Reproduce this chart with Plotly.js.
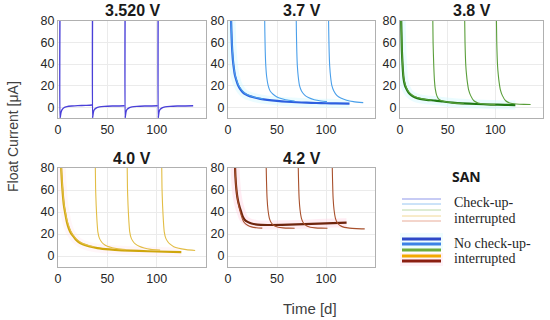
<!DOCTYPE html>
<html>
<head>
<meta charset="utf-8">
<script src="https://cdn.plot.ly/plotly-3.0.1.min.js"></script>
<style>html,body{margin:0;padding:0;background:#fff}#chart{width:550px;height:320px}</style>
</head>
<body>
<div id="chart"></div>
<script>
// ---------- DATA ----------
var panelTitles = ["3.520 V", "3.7 V", "3.8 V", "4.0 V", "4.2 V"];
var legendTitle = "SAN";
var legendCheck = ["Check-up-", "interrupted"];
var legendNoCheck = ["No check-up-", "interrupted"];
var xTitle = "Time [d]";
var yTitle = "Float Current [μA]";

// 3.520 V (check-up interrupted, 4 segments)
var t352_s1 = [2, 2, 2.3, 3, 4, 6, 9, 14, 20, 28, 34.5];
var i352_s1 = [90, -10, -9, -5, -2.5, -0.5, 0.5, 1.1, 1.5, 1.7, 2.1];
var t352_s2 = [35, 35, 35.3, 36, 37, 39, 42, 47, 55, 62, 67.5];
var i352_s2 = [90, -10, -8, -4, -2, -0.5, 0.3, 0.8, 1.1, 1.2, 1.3];
var t352_s3 = [68, 68, 68.3, 69, 70, 72, 75, 80, 88, 95, 101];
var i352_s3 = [90, -10, -8, -4, -2, -0.5, 0.3, 0.8, 1.1, 1.2, 1.3];
var t352_s4 = [101.5, 101.5, 101.8, 102.5, 103.5, 105.5, 108.5, 113.5, 121, 129, 137];
var i352_s4 = [90, -10, -8, -4, -2, -0.5, 0.3, 0.8, 1.1, 1.2, 1.3];

// 3.7 V
var t37_main = [3, 3.5, 4, 5, 6, 7, 8.5, 10, 12, 15, 18, 22, 27, 33, 40, 50, 60, 70, 80, 90, 100, 110, 124];
var i37_main = [85, 70, 58, 44, 36, 30, 25, 21, 17.5, 14, 12, 10.3, 9, 7.8, 6.8, 5.8, 5.1, 4.6, 4.2, 3.9, 3.7, 3.5, 3.3];
var t37_s1 = [3, 3.5, 4, 5, 6, 7, 8.5, 10, 12, 15, 18, 22, 27, 33, 36];
var i37_s1 = [85, 72, 60, 46, 37, 31, 26, 22, 18.5, 15, 12.5, 10.8, 9.3, 8.2, 7.7];
var t37_s2 = [37.3, 37.6, 38, 38.6, 39.5, 41, 43, 46, 50, 56, 62, 68];
var i37_s2 = [90, 70, 52, 38, 28, 20, 15, 12, 9.5, 7.6, 6.4, 5.7];
var t37_s3 = [69.5, 69.8, 70.2, 70.8, 71.7, 73, 75, 78, 82, 88, 95, 101];
var i37_s3 = [90, 70, 52, 38, 28, 20, 15, 11.5, 9, 7, 5.8, 5.2];
var t37_s4 = [102.5, 102.8, 103.2, 103.8, 104.7, 106, 108, 111, 115, 121, 128, 138];
var i37_s4 = [90, 70, 52, 38, 28, 20, 15, 11, 8.5, 6.5, 5.2, 4.3];

// 3.8 V
var t38_main = [1, 1.5, 2, 2.7, 3.7, 5, 6.5, 9, 12, 16, 21, 28, 37, 45, 55, 65, 80, 95, 110, 121];
var i38_main = [90, 70, 52, 39, 27, 21, 17.5, 13.5, 11, 9, 7.8, 6.8, 6.2, 5.3, 4.3, 3.6, 3, 2.5, 2.2, 2];
var t38_s1 = [1, 1.5, 2, 2.7, 3.7, 5, 6.5, 9, 12, 16, 21, 27, 33];
var i38_s1 = [90, 72, 54, 41, 29, 22.5, 18.5, 14.5, 11.8, 9.7, 8.3, 7.2, 6.5];
var t38_s2 = [34.3, 34.7, 35.4, 36.2, 37, 38.5, 40.4, 43, 48, 55, 62, 67];
var i38_s2 = [90, 60, 39, 24, 17, 11, 7.8, 6.2, 5, 4, 3.5, 3.2];
var t38_s3 = [67.7, 68.2, 69, 69.8, 70.7, 72, 74, 77.5, 82, 88, 95, 100];
var i38_s3 = [90, 60, 39, 30, 23, 16, 11, 6, 4, 3, 2.6, 2.4];
var t38_s4 = [101, 101.5, 102.3, 103.1, 104, 105.3, 107.3, 110.8, 115, 122, 130, 137];
var i38_s4 = [90, 60, 39, 30, 23, 16, 11, 6, 4, 3, 2.6, 2.5];

// 4.0 V
var t40_main = [3, 3.8, 4.8, 6, 7.5, 9, 11, 13, 15, 18, 22, 27, 32, 40, 52, 65, 82, 100, 125];
var i40_main = [85, 70, 57, 46, 38, 31, 25, 21, 18.5, 15, 12, 10, 8.6, 7.2, 6, 5.2, 4.6, 4.1, 3.6];
var t40_s1 = [3, 3.8, 4.8, 6, 7.5, 9, 11, 13, 15, 18, 22, 27, 32, 36.5];
var i40_s1 = [88, 73, 60, 48, 40, 33, 27, 22.5, 19.5, 16, 13, 10.8, 9.3, 8.4];
var t40_s2 = [37.7, 38.1, 38.7, 39.5, 40.4, 42, 44, 46, 50, 55, 61, 68.5];
var i40_s2 = [90, 62, 46, 32, 22, 16, 13, 11, 8.8, 7.5, 6.5, 5.8];
var t40_s3 = [70, 70.4, 71, 71.8, 72.7, 74.3, 76.3, 78.3, 82.3, 87.3, 94, 103.5];
var i40_s3 = [90, 62, 46, 32, 22, 16, 13, 11, 8.8, 7.2, 6, 5.3];
var t40_s4 = [105, 105.4, 106, 106.8, 107.7, 109.3, 111.3, 113.3, 117.3, 122.3, 130, 139];
var i40_s4 = [90, 62, 46, 32, 22, 16, 13, 11, 8.5, 7, 5.8, 5];

// 4.2 V
var t42_main = [7, 7.6, 8.3, 9.3, 10.5, 12, 13.5, 15, 17, 20, 24, 30, 40, 55, 70, 85, 100, 121];
var i42_main = [85, 72, 63, 55, 49, 44, 40, 36, 33, 31, 29.5, 28.5, 28.2, 28.3, 28.7, 29.2, 29.7, 30.3];
var t42_s1 = [7, 7.6, 8.3, 9.3, 10.5, 12, 13.5, 15, 17, 20, 24, 29, 35];
var i42_s1 = [85, 72, 63, 55, 48, 42, 37, 33, 30, 28, 26.5, 25.7, 25.3];
var t42_s2 = [38.8, 39.3, 39.9, 40.8, 42.3, 44.3, 47.3, 51.3, 56.3, 62, 68];
var i42_s2 = [88, 68, 52, 42, 34, 30, 27.5, 26.2, 25.6, 25.3, 25.2];
var t42_s3 = [71.5, 72, 72.6, 73.5, 75, 77, 80, 84, 89, 95, 101.5];
var i42_s3 = [88, 68, 52, 42, 34, 30, 27.5, 26.2, 25.6, 25.3, 25.2];
var t42_s4 = [106.2, 106.7, 107.3, 108.2, 109.7, 111.7, 114.7, 118.7, 124, 131, 139.5];
var i42_s4 = [88, 68, 52, 42, 34, 30, 27.5, 26, 25.3, 24.9, 24.7];

// ---------- STYLE ----------
var colMain = ["#4339d4", "#2c5fe0", "#1f7a14", "#cfa60c", "#6e240c"];
var colCheck = ["#4a40d8", "#4a9fea", "#5a9e3a", "#e2bd45", "#a8502c"];
var colHalo = [null, "rgba(210,248,255,0.45)", "rgba(210,248,255,0.45)", "rgba(255,228,238,0.35)", "rgba(255,212,228,0.45)"];
var legThin = ["#8f97ea", "#98c6f2", "#bcd9a8", "#f0d896", "#e8ab98"];
var legThick = ["#2d48c8", "#3b82e6", "#6cab3c", "#f2a900", "#8b1e10"];

function join(ts, is) {
  var x = [], y = [];
  for (var k = 0; k < ts.length; k++) {
    if (k > 0) { x.push(null); y.push(null); }
    x = x.concat(ts[k]); y = y.concat(is[k]);
  }
  return {x: x, y: y};
}

var panels = [
  {check: join([t352_s1, t352_s2, t352_s3, t352_s4], [i352_s1, i352_s2, i352_s3, i352_s4]), main: null},
  {check: join([t37_s1, t37_s2, t37_s3, t37_s4], [i37_s1, i37_s2, i37_s3, i37_s4]), main: {x: t37_main, y: i37_main}},
  {check: join([t38_s1, t38_s2, t38_s3, t38_s4], [i38_s1, i38_s2, i38_s3, i38_s4]), main: {x: t38_main, y: i38_main}},
  {check: join([t40_s1, t40_s2, t40_s3, t40_s4], [i40_s1, i40_s2, i40_s3, i40_s4]), main: {x: t40_main, y: i40_main}},
  {check: join([t42_s1, t42_s2, t42_s3, t42_s4], [i42_s1, i42_s2, i42_s3, i42_s4]), main: {x: t42_main, y: i42_main}}
];

var traces = [];
panels.forEach(function (p, k) {
  var ax = k === 0 ? "" : String(k + 1);
  if (p.main && colHalo[k]) {
    traces.push({type: "scatter", mode: "lines", x: p.main.x, y: p.main.y,
      xaxis: "x" + ax, yaxis: "y" + ax, line: {color: colHalo[k], width: 9, shape: "spline", smoothing: 0.6},
      showlegend: false, hoverinfo: "skip"});
  }
  if (p.main) {
    traces.push({type: "scatter", mode: "lines", x: p.main.x, y: p.main.y,
      xaxis: "x" + ax, yaxis: "y" + ax, line: {color: colMain[k], width: 2.2, shape: "spline", smoothing: 0.6},
      showlegend: false, hoverinfo: "skip"});
  }
  traces.push({type: "scatter", mode: "lines", x: p.check.x, y: p.check.y,
    xaxis: "x" + ax, yaxis: "y" + ax, line: {color: colCheck[k], width: k === 0 ? 1.4 : 1.1, shape: "spline", smoothing: 0.6},
    connectgaps: false, showlegend: false, hoverinfo: "skip"});
});

// ---------- LAYOUT ----------
var L = 58, R = 7, T = 21, B = 53, W = 550, H = 320;
var pw = W - L - R, ph = H - T - B;
function px(v) { return (v - L) / pw; }
function py(v) { return (H - B - v) / ph; }

var xDom = [[0, px(206)], [px(228), px(375)], [px(400), 1], [0, px(206)], [px(228), px(375)]];
var yDom = [[py(118), 1], [py(118), 1], [py(118), 1], [0, py(168)], [0, py(168)]];

var layout = {
  width: W, height: H,
  margin: {l: L, r: R, t: T, b: B, pad: 0},
  paper_bgcolor: "#ffffff", plot_bgcolor: "#ffffff",
  font: {family: "Liberation Sans, Arial, sans-serif", size: 12, color: "#262626"},
  showlegend: false,
  annotations: [],
  shapes: []
};
for (var k = 0; k < 5; k++) {
  var ax = k === 0 ? "" : String(k + 1);
  layout["xaxis" + ax] = {
    domain: xDom[k], range: [0, 150], anchor: "y" + ax,
    tickvals: [0, 50, 100], ticks: "", showgrid: true, gridcolor: "#ebebeb", gridwidth: 1,
    zeroline: false, showline: true, mirror: true, linecolor: "#b0b0b0", linewidth: 1,
    tickfont: {size: 12.5, color: "#262626"}, fixedrange: true
  };
  layout["yaxis" + ax] = {
    domain: yDom[k], range: [-10, 80], anchor: "x" + ax,
    tickvals: [0, 20, 40, 60, 80], ticks: "", showgrid: true, gridcolor: "#ebebeb", gridwidth: 1,
    zeroline: false, showline: true, mirror: true, linecolor: "#b0b0b0", linewidth: 1,
    tickfont: {size: 12.5, color: "#262626"}, fixedrange: true
  };
  layout.annotations.push({
    text: "<b>" + panelTitles[k] + "</b>", xref: "paper", yref: "paper",
    x: (xDom[k][0] + xDom[k][1]) / 2, y: k < 3 ? py(11) : py(158),
    xanchor: "center", yanchor: "middle", showarrow: false,
    font: {family: "Liberation Sans, Arial, sans-serif", size: 16, color: "#1a1a1a"}
  });
}
layout.annotations.push({text: yTitle, xref: "paper", yref: "paper", x: px(13), y: py(137),
  textangle: -90, xanchor: "center", yanchor: "middle", showarrow: false,
  font: {size: 14, color: "#404040"}});
layout.annotations.push({text: xTitle, xref: "paper", yref: "paper", x: px(310), y: py(308),
  xanchor: "center", yanchor: "middle", showarrow: false,
  font: {size: 15, color: "#404040"}});

// Legend block
layout.annotations.push({text: "<b>" + legendTitle + "</b>", xref: "paper", yref: "paper",
  x: px(466), y: py(176), xanchor: "center", yanchor: "middle", showarrow: false,
  font: {family: "Open Sans, Liberation Sans, sans-serif", size: 14, color: "#1a1a1a"}});
var legFont = {family: "Liberation Serif, serif", size: 14, color: "#262626"};
[[legendCheck[0], 203], [legendCheck[1], 218], [legendNoCheck[0], 243], [legendNoCheck[1], 258]].forEach(function (a) {
  layout.annotations.push({text: a[0], xref: "paper", yref: "paper", x: px(452), y: py(a[1]),
    xanchor: "left", yanchor: "middle", showarrow: false, font: legFont});
});
layout.shapes.push({type: "rect", xref: "paper", yref: "paper", x0: px(400), x1: px(443),
  y0: py(250), y1: py(233), line: {width: 0}, fillcolor: "rgba(215,249,255,0.4)", layer: "below"});
layout.shapes.push({type: "rect", xref: "paper", yref: "paper", x0: px(400), x1: px(443),
  y0: py(266), y1: py(253), line: {width: 0}, fillcolor: "rgba(255,222,234,0.4)", layer: "below"});
var thinY = [199, 204, 210, 216, 221], thickY = [239, 244, 250, 256, 261];
for (var j = 0; j < 5; j++) {
  layout.shapes.push({type: "line", xref: "paper", yref: "paper", x0: px(402), x1: px(441),
    y0: py(thinY[j]), y1: py(thinY[j]), line: {color: legThin[j], width: 1}});
  layout.shapes.push({type: "line", xref: "paper", yref: "paper", x0: px(402), x1: px(441),
    y0: py(thickY[j]), y1: py(thickY[j]), line: {color: legThick[j], width: 3}});
}

Plotly.newPlot("chart", traces, layout, {staticPlot: true, displayModeBar: false});
</script>
</body>
</html>
